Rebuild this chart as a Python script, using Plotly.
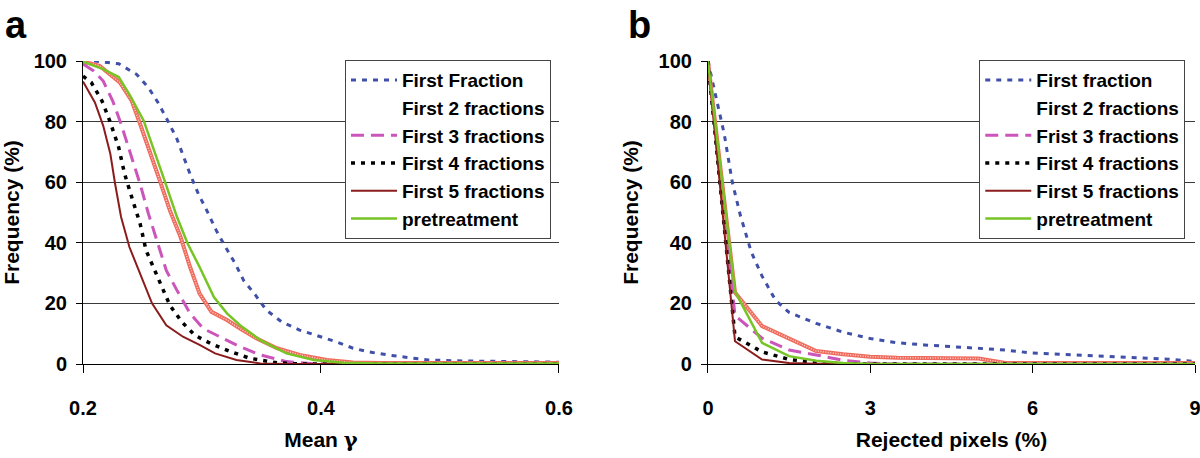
import plotly.graph_objects as go

FONT = "Liberation Sans, Arial, Helvetica, sans-serif"

# ---------------- Panel a data (Mean gamma) ----------------
a_first_x = [0.2, 0.21, 0.23, 0.245, 0.255, 0.263, 0.272, 0.279, 0.29, 0.297, 0.304, 0.312, 0.319,
             0.328, 0.335, 0.345, 0.354, 0.367, 0.382, 0.396, 0.413, 0.427, 0.44, 0.456, 0.475,
             0.49, 0.52, 0.55, 0.6]
a_first_y = [100, 100, 99.1, 95.6, 91.2, 86.3, 79.7, 74.2, 62.7, 56.1, 50.7, 44.1, 39.1,
             33.1, 27.6, 22.7, 17.8, 13.9, 11.2, 9.5, 7.3, 5.2, 4, 3, 2,
             1.3, 1, 0.8, 0.6]

a_two_x = [0.2, 0.214, 0.231, 0.241, 0.248, 0.256, 0.265, 0.273, 0.282, 0.29, 0.298, 0.308, 0.321,
           0.332, 0.346, 0.363, 0.382, 0.405, 0.427, 0.45, 0.5, 0.6]
a_two_y = [99.8, 98.4, 92.9, 86.8, 79.2, 70.4, 60, 50.7, 41.9, 32, 23.2, 17.2, 14.5,
           11.7, 8.4, 5.2, 3, 1.3, 0.5, 0.3, 0.3, 0.3]

a_three_x = [0.2, 0.209, 0.217, 0.225, 0.232, 0.239, 0.248, 0.255, 0.262, 0.27, 0.279, 0.29, 0.301,
             0.315, 0.332, 0.349, 0.371, 0.394, 0.42, 0.6]
a_three_y = [99, 96.7, 93.4, 86.8, 79.2, 70.4, 59.4, 49.6, 40.8, 30.9, 24.3, 16.7, 11.7,
             9, 5.7, 3, 0.8, 0.1, 0, 0]

a_four_x = [0.2, 0.207, 0.216, 0.223, 0.23, 0.235, 0.241, 0.248, 0.253, 0.26, 0.266, 0.273, 0.283,
            0.294, 0.307, 0.324, 0.34, 0.363, 0.382, 0.6]
a_four_y = [95, 92.9, 86.8, 79.7, 71.5, 62.7, 55, 46.3, 37.5, 30.9, 25.4, 19.4, 13.9,
            9.5, 6.8, 4.1, 1.9, 0.4, 0, 0]

a_five_x = [0.2, 0.21, 0.217, 0.223, 0.227, 0.232, 0.239, 0.248, 0.258, 0.27, 0.284, 0.298, 0.311,
            0.329, 0.349, 0.371, 0.6]
a_five_y = [93.2, 86.3, 78.6, 69.3, 59.4, 48.5, 38.6, 29.8, 20, 12.8, 9, 6.3, 3.5,
            1.3, 0.2, 0, 0]

a_pre_x = [0.2, 0.217, 0.23, 0.239, 0.251, 0.259, 0.269, 0.279, 0.288, 0.298, 0.31, 0.321, 0.332,
           0.349, 0.371, 0.394, 0.419, 0.45, 0.6]
a_pre_y = [99.8, 97.3, 94.7, 89, 80.3, 71.5, 60, 48.5, 39.7, 32, 22.1, 16.7, 12.8,
           7.9, 3.5, 1.3, 0.4, 0.2, 0.2]

# ---------------- Panel b data (Rejected pixels %) ----------------
b_first_x = [0, 0.15, 0.3, 0.45, 0.6, 0.8, 1.0, 1.25, 1.5, 2, 2.5, 3, 3.5, 4, 4.5, 5, 5.5,
             6, 6.5, 7, 7.5, 8, 8.5, 9]
b_first_y = [100, 88, 76, 60, 49, 37, 29, 21, 17, 13.4, 10.5, 8.4, 7, 6.3, 5.8, 5.3, 4.6,
             3.6, 3.2, 2.8, 2.4, 2, 1.6, 0.8]

b_x = [0, 0.5, 1, 1.5, 2, 2.5, 3, 3.5, 4, 4.5, 5, 5.5, 6, 6.5, 7, 7.5, 8, 8.5, 9]
b_two_y = [100, 23.6, 12.5, 8.3, 4.3, 3.2, 2.4, 2.1, 2, 1.9, 1.8, 0.3, 0.3, 0.3, 0.3, 0.3, 0.3, 0.3, 0.3]
b_three_y = [100, 16, 8.5, 4.6, 3, 1.2, 0.3, 0, 0, 0, 0, 0, 0, 0, 0, 0, 0, 0, 0]
b_four_y = [100, 9, 4, 1.5, 0.5, 0.1, 0, 0, 0, 0, 0, 0, 0, 0, 0, 0, 0, 0, 0]
b_five_y = [100, 7.5, 1.5, 0.3, 0.1, 0, 0, 0, 0, 0, 0, 0, 0, 0, 0, 0, 0, 0, 0]
b_pre_y = [100, 24, 7, 2.6, 1.1, 0.3, 0, 0, 0, 0, 0, 0, 0, 0, 0, 0, 0, 0, 0]

a_names = ["First Fraction", "First 2 fractions", "First 3 fractions",
           "First 4 fractions", "First 5 fractions", "pretreatment"]
b_names = ["First fraction", "First 2 fractions", "Frist 3 fractions",
           "First 4 fractions", "First 5 fractions", "pretreatment"]

a_ticks = [0.2, 0.4, 0.6]
b_ticks = [0, 3, 6, 9]
y_ticks = [0, 20, 40, 60, 80, 100]

BLUE = "#4050a8"
RED = "#f06a5c"
MAG = "#cc55bb"
BLK = "#000000"
BRN = "#8b1c1c"
GRN = "#77c425"

fig = go.Figure()


def add_panel(xaxis, yaxis, legend, names, series):
    for i, (x, y) in enumerate(series):
        grp = legend + str(i)
        if i == 0:
            fig.add_trace(go.Scatter(x=x, y=y, mode="lines", name=names[0], legendgroup=grp,
                                     line=dict(color=BLUE, width=3, dash="5px,6px"),
                                     xaxis=xaxis, yaxis=yaxis, legend=legend))
        elif i == 1:
            fig.add_trace(go.Scatter(x=x, y=y, mode="lines", showlegend=False, legendgroup=grp,
                                     line=dict(color=RED, width=4),
                                     xaxis=xaxis, yaxis=yaxis, legend=legend))
            fig.add_trace(go.Scatter(x=x, y=y, mode="lines", name=names[1], legendgroup=grp,
                                     line=dict(color="rgba(255,255,255,0.7)", width=1.5, dash="1px,1.5px"),
                                     xaxis=xaxis, yaxis=yaxis, legend=legend))
        elif i == 2:
            fig.add_trace(go.Scatter(x=x, y=y, mode="lines", name=names[2], legendgroup=grp,
                                     line=dict(color=MAG, width=3, dash="13px,7px"),
                                     xaxis=xaxis, yaxis=yaxis, legend=legend))
        elif i == 3:
            fig.add_trace(go.Scatter(x=x, y=y, mode="lines", name=names[3], legendgroup=grp,
                                     line=dict(color=BLK, width=3.5, dash="4px,6px"),
                                     xaxis=xaxis, yaxis=yaxis, legend=legend))
        elif i == 4:
            fig.add_trace(go.Scatter(x=x, y=y, mode="lines", name=names[4], legendgroup=grp,
                                     line=dict(color=BRN, width=2),
                                     xaxis=xaxis, yaxis=yaxis, legend=legend))
        else:
            fig.add_trace(go.Scatter(x=x, y=y, mode="lines", name=names[5], legendgroup=grp,
                                     line=dict(color=GRN, width=2.5),
                                     xaxis=xaxis, yaxis=yaxis, legend=legend))


add_panel("x", "y", "legend", a_names,
          [(a_first_x, a_first_y), (a_two_x, a_two_y), (a_three_x, a_three_y),
           (a_four_x, a_four_y), (a_five_x, a_five_y), (a_pre_x, a_pre_y)])
add_panel("x2", "y2", "legend2", b_names,
          [(b_first_x, b_first_y), (b_x, b_two_y), (b_x, b_three_y),
           (b_x, b_four_y), (b_x, b_five_y), (b_x, b_pre_y)])

tickfont = dict(family=FONT, size=20, color="black", weight="bold")
titlefont = dict(family=FONT, size=21, color="black", weight="bold")

xcommon = dict(showline=True, linecolor="black", linewidth=1, ticks="outside", ticklen=8,
               tickcolor="black", tickwidth=1, showgrid=False, zeroline=False,
               tickfont=tickfont, ticklabelstandoff=18, automargin=False,
               ticklabeloverflow="allow")
ycommon = dict(range=[0, 100], tickvals=y_ticks, showline=True, linecolor="black", linewidth=1,
               ticks="outside", ticklen=6, tickcolor="black", showgrid=True, gridcolor="#3a3a3a",
               gridwidth=1, zeroline=False, tickfont=tickfont, ticklabelstandoff=5,
               automargin=False)

legcommon = dict(yanchor="top", y=1.003, xanchor="left", bgcolor="white", bordercolor="#444",
                 borderwidth=1, font=dict(family=FONT, size=19, color="black", weight="bold"),
                 traceorder="grouped", tracegroupgap=0, itemwidth=46)

fig.update_layout(
    width=1200, height=458,
    margin=dict(l=83, r=5, t=61, b=94),
    paper_bgcolor="white", plot_bgcolor="white",
    font=dict(family=FONT, color="black"),
    xaxis=dict(domain=[0, 0.428], range=[0.2, 0.6], tickvals=a_ticks,
               ticktext=["0.2", "0.4", "0.6"], anchor="y",
               title=dict(text="Mean <span style='font-family:DejaVu Serif'>γ</span>",
                          font=titlefont, standoff=14), **xcommon),
    yaxis=dict(domain=[0, 1], anchor="x",
               title=dict(text="Frequency (%)", font=titlefont, standoff=14), **ycommon),
    xaxis2=dict(domain=[0.562, 1], range=[0, 9], tickvals=b_ticks, anchor="y2",
                title=dict(text="Rejected pixels (%)", font=titlefont, standoff=14), **xcommon),
    yaxis2=dict(domain=[0, 1], anchor="x2",
                title=dict(text="Frequency (%)", font=titlefont, standoff=14), **ycommon),
    legend=dict(x=0.2356, **legcommon),
    legend2=dict(x=0.806, **legcommon),
    annotations=[
        dict(text="a", xref="paper", yref="paper", x=-0.072, y=1.119, xanchor="left",
             yanchor="middle", showarrow=False,
             font=dict(family=FONT, size=38, color="black", weight="bold")),
        dict(text="b", xref="paper", yref="paper", x=0.488, y=1.119, xanchor="left",
             yanchor="middle", showarrow=False,
             font=dict(family=FONT, size=38, color="black", weight="bold")),
    ],
)

fig.write_html("out.html", config={"displayModeBar": False},
               post_script="document.body.style.margin='0';document.body.style.overflow='hidden';")
